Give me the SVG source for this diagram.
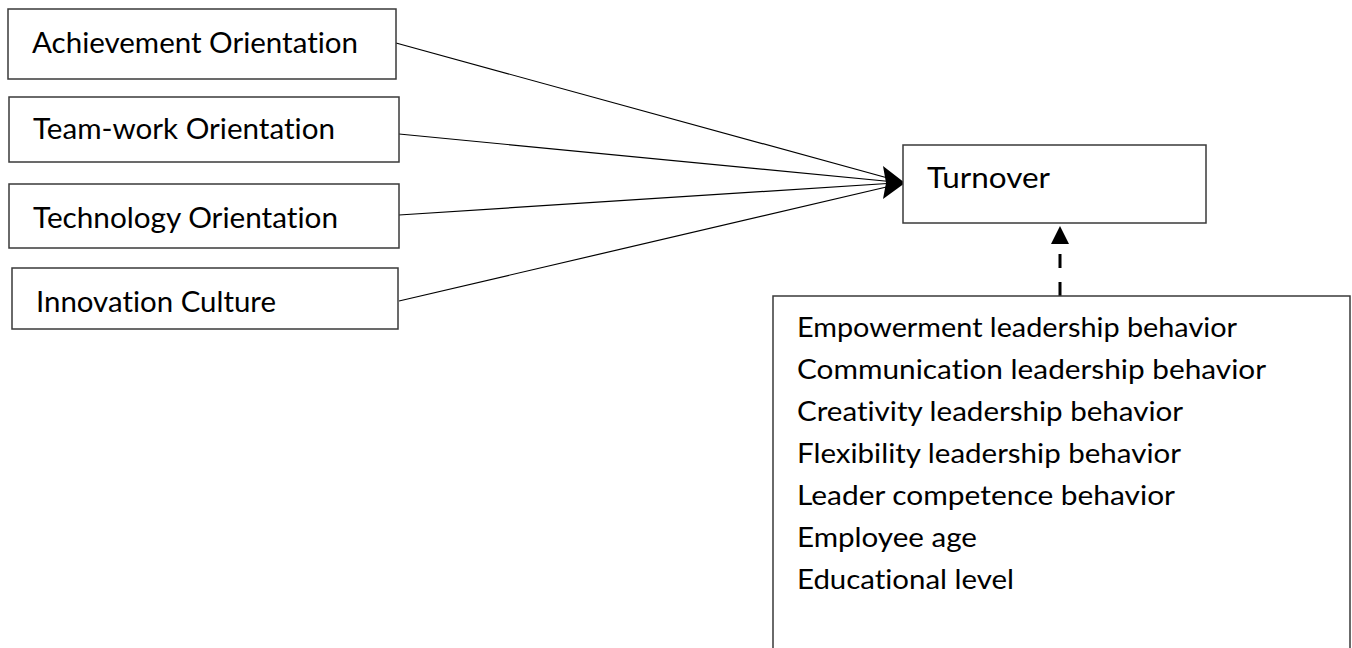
<svg xmlns="http://www.w3.org/2000/svg" width="1352" height="648" viewBox="0 0 1352 648">
<style>
.box{fill:#fff;stroke:#3a3a3a;stroke-width:1.5}
.t{font-family:Lato,"Open Sans","Liberation Sans",sans-serif;font-size:29px;fill:#000;font-variant-ligatures:none}
.s{font-family:Lato,"Open Sans","Liberation Sans",sans-serif;font-size:27px;fill:#000;font-variant-ligatures:none}
.ln{stroke:#000;stroke-width:1.2;fill:none}
.dash{stroke:#000;stroke-width:3;fill:none;stroke-dasharray:14 14}
.head{fill:#000}
</style>
<rect width="1352" height="648" fill="#fff"/>
<g id="connectors">
<line class="ln" x1="396" y1="43" x2="895" y2="180"/>
<line class="ln" x1="399" y1="134" x2="895" y2="182"/>
<line class="ln" x1="399" y1="215" x2="895" y2="183"/>
<line class="ln" x1="399" y1="301" x2="895" y2="185"/>
<path class="head" d="M883,166 L905,183 L883,199 L886,183 Z"/>
<line class="dash" x1="1060" y1="296" x2="1060" y2="245"/>
<path class="head" d="M1051,244 L1060,226 L1069,244 Z"/>
</g>
<g id="n1"><rect class="box" x="8" y="9" width="388" height="70"/><text class="t" x="32" y="53" textLength="326" lengthAdjust="spacingAndGlyphs">Achievement Orientation</text></g>
<g id="n2"><rect class="box" x="9" y="97" width="390" height="65"/><text class="t" x="33" y="139" textLength="302" lengthAdjust="spacingAndGlyphs">Team-work Orientation</text></g>
<g id="n3"><rect class="box" x="9" y="184" width="390" height="64"/><text class="t" x="33" y="228" textLength="305" lengthAdjust="spacingAndGlyphs">Technology Orientation</text></g>
<g id="n4"><rect class="box" x="12" y="268" width="386" height="61"/><text class="t" x="36" y="312" textLength="240" lengthAdjust="spacingAndGlyphs">Innovation Culture</text></g>
<g id="turnover"><rect class="box" x="903" y="145" width="303" height="78"/><text class="t" x="927" y="188" textLength="123" lengthAdjust="spacingAndGlyphs">Turnover</text></g>
<g id="controls"><rect class="box" x="773" y="296" width="577" height="360"/>
<text class="s" x="797" y="337" textLength="440" lengthAdjust="spacingAndGlyphs">Empowerment leadership behavior</text>
<text class="s" x="797" y="379" textLength="469" lengthAdjust="spacingAndGlyphs">Communication leadership behavior</text>
<text class="s" x="797" y="421" textLength="386" lengthAdjust="spacingAndGlyphs">Creativity leadership behavior</text>
<text class="s" x="797" y="463" textLength="384" lengthAdjust="spacingAndGlyphs">Flexibility leadership behavior</text>
<text class="s" x="797" y="505" textLength="378" lengthAdjust="spacingAndGlyphs">Leader competence behavior</text>
<text class="s" x="797" y="547" textLength="180" lengthAdjust="spacingAndGlyphs">Employee age</text>
<text class="s" x="797" y="589" textLength="217" lengthAdjust="spacingAndGlyphs">Educational level</text>
</g>
</svg>
